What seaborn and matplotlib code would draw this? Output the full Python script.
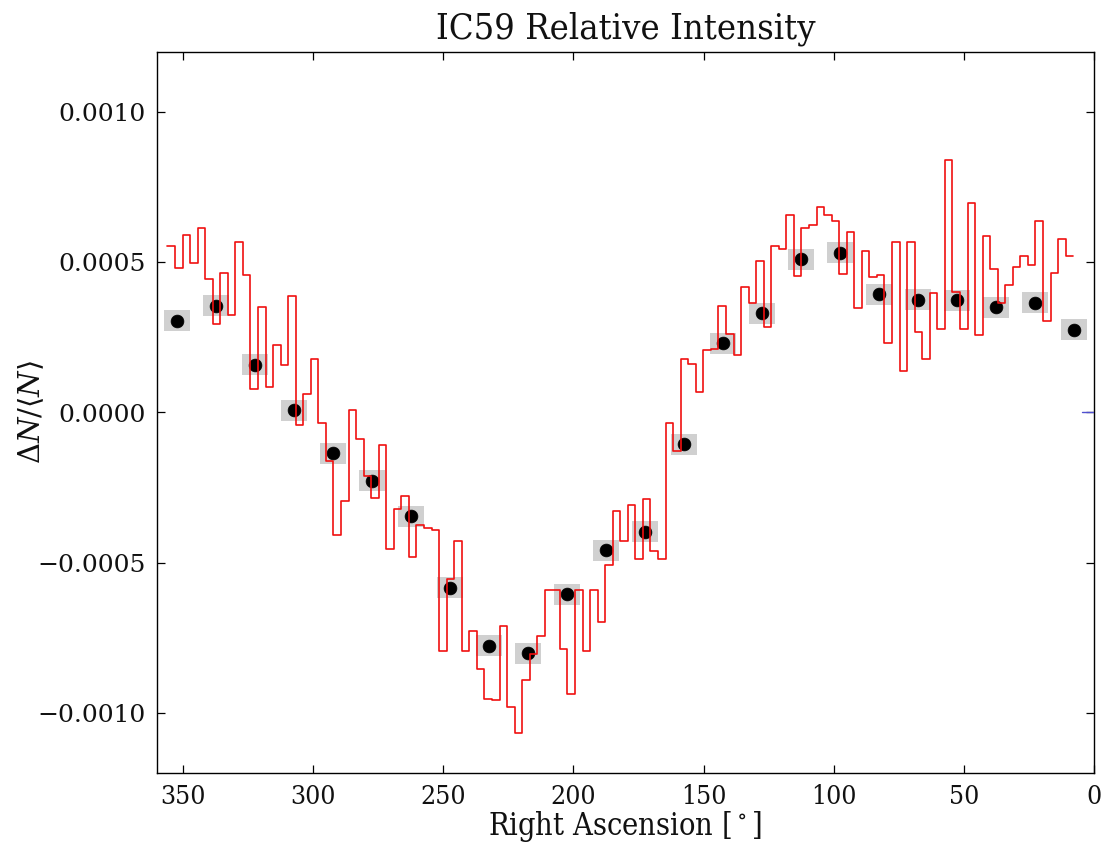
import numpy as np
import pandas as pd
import matplotlib
matplotlib.use("Agg")
import matplotlib.pyplot as plt
from matplotlib.ticker import FuncFormatter
import seaborn as sns

# Fine-binned relative intensity (red step curve), units of 1e-4,
# bins running from RA 356 deg down to RA 8 deg
fine_ra_start = 356.0
fine_ra_stop = 8.0
fine_dI = [
    5.54, 4.82, 5.90, 4.99, 6.15, 4.44, 2.95, 4.66, 3.25, 5.68,
    4.57, 0.79, 3.50, 0.85, 2.26, 1.57, 3.88, -0.42, 0.61, 1.77,
    -0.36, -1.63, -4.07, -2.96, 0.08, -0.89, -2.10, -2.85, -1.08, -4.53,
    -3.21, -2.79, -4.81, -3.73, -3.84, -3.90, -7.93, -5.55, -4.28, -7.93,
    -7.26, -8.53, -9.53, -9.58, -7.10, -9.80, -10.68, -8.92, -8.05, -7.43,
    -5.92, -5.92, -7.87, -9.36, -5.92, -7.95, -5.92, -6.99, -5.06, -3.29,
    -4.28, -3.07, -4.87, -2.87, -4.61, -4.87, -0.35, -1.28, 1.79, 1.60,
    0.68, 2.08, 2.10, 3.56, 2.60, 1.91, 4.17, 3.65, 5.04, 2.86,
    5.54, 5.45, 6.56, 4.55, 6.15, 6.25, 6.84, 6.59, 6.37, 4.62,
    6.00, 3.49, 5.38, 4.50, 4.58, 2.33, 5.67, 1.37, 5.67, 2.67,
    1.79, 3.97, 2.78, 8.39, 4.00, 2.78, 6.98, 2.57, 5.87, 4.79,
    3.66, 4.23, 4.85, 5.21, 4.90, 6.37, 3.06, 4.66, 5.76, 5.21,
]

# 15-degree bins (black points with grey error boxes), units of 1e-4
coarse_ra = [352.5, 337.5, 322.5, 307.5, 292.5, 277.5, 262.5, 247.5,
             232.5, 217.5, 202.5, 187.5, 172.5, 157.5, 142.5, 127.5,
             112.5, 97.5, 82.5, 67.5, 52.5, 37.5, 22.5, 7.5]
coarse_dI = [3.06, 3.55, 1.59, 0.08, -1.36, -2.27, -3.45, -5.83,
             -7.76, -8.01, -6.05, -4.59, -3.97, -1.06, 2.31, 3.31,
             5.10, 5.32, 3.93, 3.75, 3.74, 3.50, 3.66, 2.76]
coarse_err = [0.35] * 24
box_width = 10.0

xtick_values = [350, 300, 250, 200, 150, 100, 50, 0]
ytick_values = [-0.0010, -0.0005, 0.0000, 0.0005, 0.0010]

sns.set_theme(style="ticks")
plt.rcParams.update({
    "font.family": ["DejaVu Serif"],
    "mathtext.fontset": "dejavuserif",
    "text.color": "#111111",
    "axes.labelcolor": "#111111",
    "xtick.color": "#111111",
    "ytick.color": "#111111",
    "xtick.direction": "in",
    "ytick.direction": "in",
    "xtick.top": True,
    "ytick.right": True,
    "axes.edgecolor": "black",
    "axes.linewidth": 1.0,
})

fig = plt.figure(figsize=(11.13, 8.47), dpi=100)
W, H = 1113, 847
ax = fig.add_axes([157 / W, 1 - 773 / H, (1094 - 157) / W, (773 - 52) / H])

scale = 1e-4
cra = np.array(coarse_ra)
cdi = np.array(coarse_dI) * scale
cer = np.array(coarse_err) * scale

# grey error boxes behind the coarse points
ax.bar(cra, 2 * cer, bottom=cdi - cer, width=box_width, color="#d0d0d0",
       edgecolor="none", zorder=1)

sns.scatterplot(x=cra, y=cdi, color="black", s=85, edgecolor="black",
                linewidth=0.5, zorder=3, ax=ax, legend=False)

# fine-binned step curve
edges = np.linspace(fine_ra_start, fine_ra_stop, len(fine_dI) + 1)
step_df = pd.DataFrame({"ra": edges,
                        "dI": np.append(fine_dI, fine_dI[-1]) * scale})
sns.lineplot(data=step_df, x="ra", y="dI", drawstyle="steps-post",
             sort=False, estimator=None, color="#f01010", lw=1.2,
             zorder=4, ax=ax, legend=False)

# short blue reference mark at zero
ax.plot([4.6, 0.5], [0, 0], color="#5050d0", lw=1.0, zorder=4)

ax.set_xlim(360, 0)
ax.set_ylim(-0.0012, 0.0012)
ax.set_xticks(xtick_values)
ax.set_yticks(ytick_values)
ax.yaxis.set_major_formatter(
    FuncFormatter(lambda v, p: f"{v:.4f}".replace("-", "\u2212")))
ax.tick_params(axis="both", which="major", length=6, width=0.9,
               color="black")
ax.tick_params(axis="y", labelsize=18, pad=8)
ax.tick_params(axis="x", labelsize=19, pad=8)
for lab in ax.get_xticklabels():
    lab.set_fontstretch("condensed")

ax.set_title("IC59 Relative Intensity", fontsize=26, pad=10,
             fontstretch="condensed")
ax.set_xlabel(r"Right Ascension [$^\circ$]", fontsize=22, labelpad=0,
              fontstretch="condensed")
ax.set_ylabel(r"$\Delta N/\langle N\rangle$", fontsize=21)
ax.yaxis.set_label_coords(-0.118, 0.5)

for s in ax.spines.values():
    s.set_visible(True)
    s.set_color("black")

fig.savefig("out.png", dpi=100, facecolor="white")
